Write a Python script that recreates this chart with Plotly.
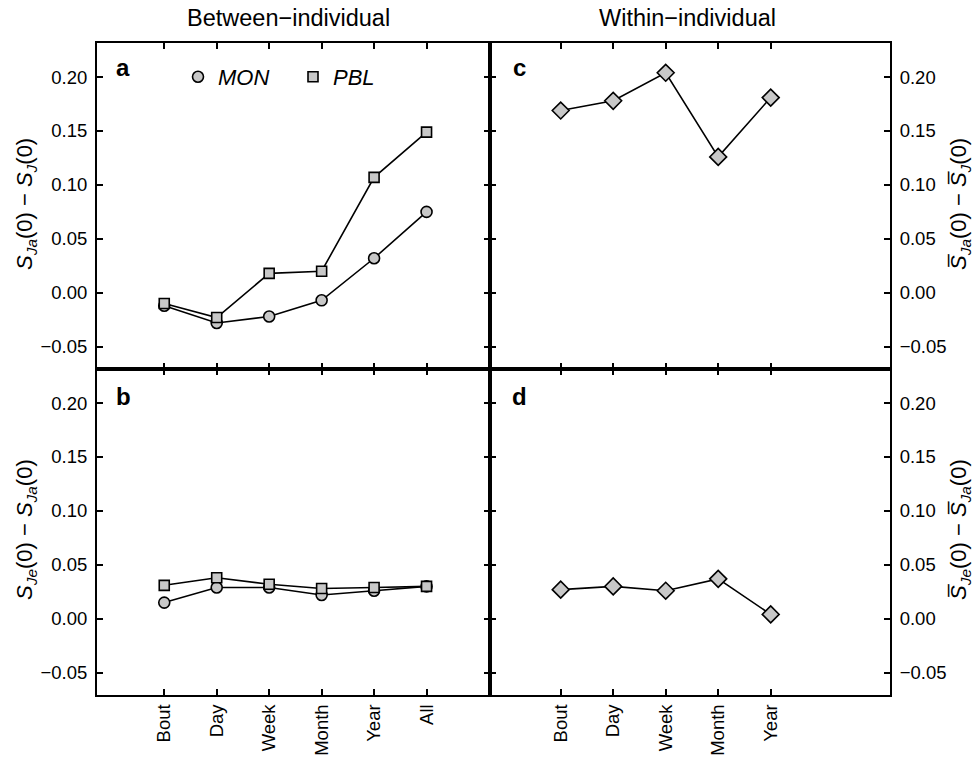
import plotly.graph_objects as go

# ---------------- data ----------------
between_cats = ["Bout", "Day", "Week", "Month", "Year", "All"]
within_cats = ["Bout", "Day", "Week", "Month", "Year"]

# panel a : S_Ja(0) - S_J(0)
a_mon = [-0.012, -0.028, -0.022, -0.007, 0.032, 0.075]
a_pbl = [-0.010, -0.023, 0.018, 0.020, 0.107, 0.149]
# panel b : S_Je(0) - S_Ja(0)
b_mon = [0.015, 0.029, 0.029, 0.022, 0.026, 0.030]
b_pbl = [0.031, 0.038, 0.032, 0.028, 0.029, 0.030]
# panel c : mean S_Ja(0) - mean S_J(0)
c_vals = [0.169, 0.178, 0.204, 0.126, 0.181]
# panel d : mean S_Je(0) - mean S_Ja(0)
d_vals = [0.027, 0.030, 0.026, 0.037, 0.004]

y_ticks = [-0.05, 0.00, 0.05, 0.10, 0.15, 0.20]
y_ticktext = ["\u22120.05", "0.00", "0.05", "0.10", "0.15", "0.20"]

# ---------------- layout helpers ----------------
W, H = 979, 759
def px(x):
    return x / W
def py(y):
    return 1 - y / H

xL = [px(97), px(490)]
xR = [px(490), px(890)]
yT = [py(369), py(43)]
yB = [py(695), py(369)]

FONT = "Liberation Sans, Arial, sans-serif"
FILL = "#c8c8c8"
tick_font = dict(family=FONT, size=18.5, color="black")

xb = list(range(1, len(between_cats) + 1))
xw = list(range(1, len(within_cats) + 1))

fig = go.Figure()

def add_line(x, y, symbol, size, xa, ya, name):
    fig.add_trace(go.Scatter(
        x=x, y=y, mode="lines+markers", name=name, showlegend=False,
        xaxis=xa, yaxis=ya,
        line=dict(color="black", width=1.6),
        marker=dict(symbol=symbol, size=size, color=FILL,
                    line=dict(color="black", width=1.6)),
    ))

add_line(xb, a_mon, "circle", 11, "x", "y", "MON")
add_line(xb, a_pbl, "square", 10, "x", "y", "PBL")
add_line(xb, b_mon, "circle", 11, "x2", "y2", "MON")
add_line(xb, b_pbl, "square", 10, "x2", "y2", "PBL")
add_line(xw, c_vals, "diamond", 13, "x3", "y3", "within")
add_line(xw, d_vals, "diamond", 13, "x4", "y4", "within")

# legend-only entries (marker only)
for nm, sym, sz in [("MON", "circle", 11), ("PBL", "square", 10)]:
    fig.add_trace(go.Scatter(
        x=[None], y=[None], mode="markers", name="<i>%s</i>" % nm,
        xaxis="x", yaxis="y",
        marker=dict(symbol=sym, size=sz, color=FILL,
                    line=dict(color="black", width=1.6)),
    ))

def xaxis(domain, rng, anchor, labels, show):
    return dict(
        domain=domain, range=rng, anchor=anchor,
        tickvals=list(range(1, len(labels) + 1)), ticktext=labels,
        showticklabels=show, tickangle=-90,
        ticks="inside", ticklen=6, tickwidth=1.5, tickcolor="black",
        showline=True, linecolor="black", linewidth=2, mirror="ticks",
        showgrid=False, zeroline=False, tickfont=tick_font,
    )

def yaxis(domain, anchor, side):
    return dict(
        domain=domain, range=[-0.0707, 0.2316], anchor=anchor, side=side,
        tickvals=y_ticks, ticktext=y_ticktext,
        ticks="inside", ticklen=6, tickwidth=1.5, tickcolor="black",
        showline=True, linecolor="black", linewidth=2, mirror="ticks",
        showgrid=False, zeroline=False, tickfont=tick_font,
        ticklabelstandoff=4,
    )

rngL = [1 - 67.3 / 52.5, 1 + 326.0 / 52.5]
rngR = [1 - 70.7 / 52.5, 1 + 329.3 / 52.5]

fig.update_layout(
    width=W, height=H,
    margin=dict(l=0, r=0, t=0, b=0),
    paper_bgcolor="white", plot_bgcolor="white",
    font=dict(family=FONT, size=18, color="black"),
    xaxis=xaxis(xL, rngL, "y", between_cats, False),
    yaxis=yaxis(yT, "x", "left"),
    xaxis2=xaxis(xL, rngL, "y2", between_cats, True),
    yaxis2=yaxis(yB, "x2", "left"),
    xaxis3=xaxis(xR, rngR, "y3", within_cats, False),
    yaxis3=yaxis(yT, "x3", "right"),
    xaxis4=xaxis(xR, rngR, "y4", within_cats, True),
    yaxis4=yaxis(yB, "x4", "right"),
    showlegend=True,
    legend=dict(
        orientation="h", x=px(178), y=py(77), xanchor="left", yanchor="middle",
        bgcolor="rgba(0,0,0,0)", font=dict(family=FONT, size=22),
        entrywidth=70, entrywidthmode="pixels", itemclick=False,
    ),
)

ann = []
# column titles
ann.append(dict(text="Between\u2212individual", x=px(288), y=py(18), xref="paper", yref="paper",
                showarrow=False, xanchor="center", yanchor="middle", font=dict(size=23.5)))
ann.append(dict(text="Within\u2212individual", x=px(687), y=py(18), xref="paper", yref="paper",
                showarrow=False, xanchor="center", yanchor="middle", font=dict(size=23.5)))
# panel letters
for t, xx, yy in [("a", 114, 68), ("b", 114, 396), ("c", 511, 68), ("d", 510, 396)]:
    ann.append(dict(text="<b>%s</b>" % t, x=px(xx), y=py(yy), xref="paper", yref="paper",
                    showarrow=False, xanchor="left", yanchor="middle", font=dict(size=24)))
# y-axis titles
OV = "S\u0305"
ytitles = [
    ("<i>S</i><sub><i>Ja</i></sub>(0) \u2212 <i>S</i><sub><i>J</i></sub>(0)", 26, 204),
    ("<i>S</i><sub><i>Je</i></sub>(0) \u2212 <i>S</i><sub><i>Ja</i></sub>(0)", 26, 530),
    ("<i>%s</i><sub><i>Ja</i></sub>(0) \u2212 <i>%s</i><sub><i>J</i></sub>(0)" % (OV, OV), 960, 204),
    ("<i>%s</i><sub><i>Je</i></sub>(0) \u2212 <i>%s</i><sub><i>Ja</i></sub>(0)" % (OV, OV), 960, 530),
]
for t, xx, yy in ytitles:
    ann.append(dict(text=t, x=px(xx), y=py(yy), xref="paper", yref="paper", textangle=-90,
                    showarrow=False, xanchor="center", yanchor="middle", font=dict(size=22)))
fig.update_layout(annotations=ann)

fig.write_html("out.html", config={"displayModeBar": False})
